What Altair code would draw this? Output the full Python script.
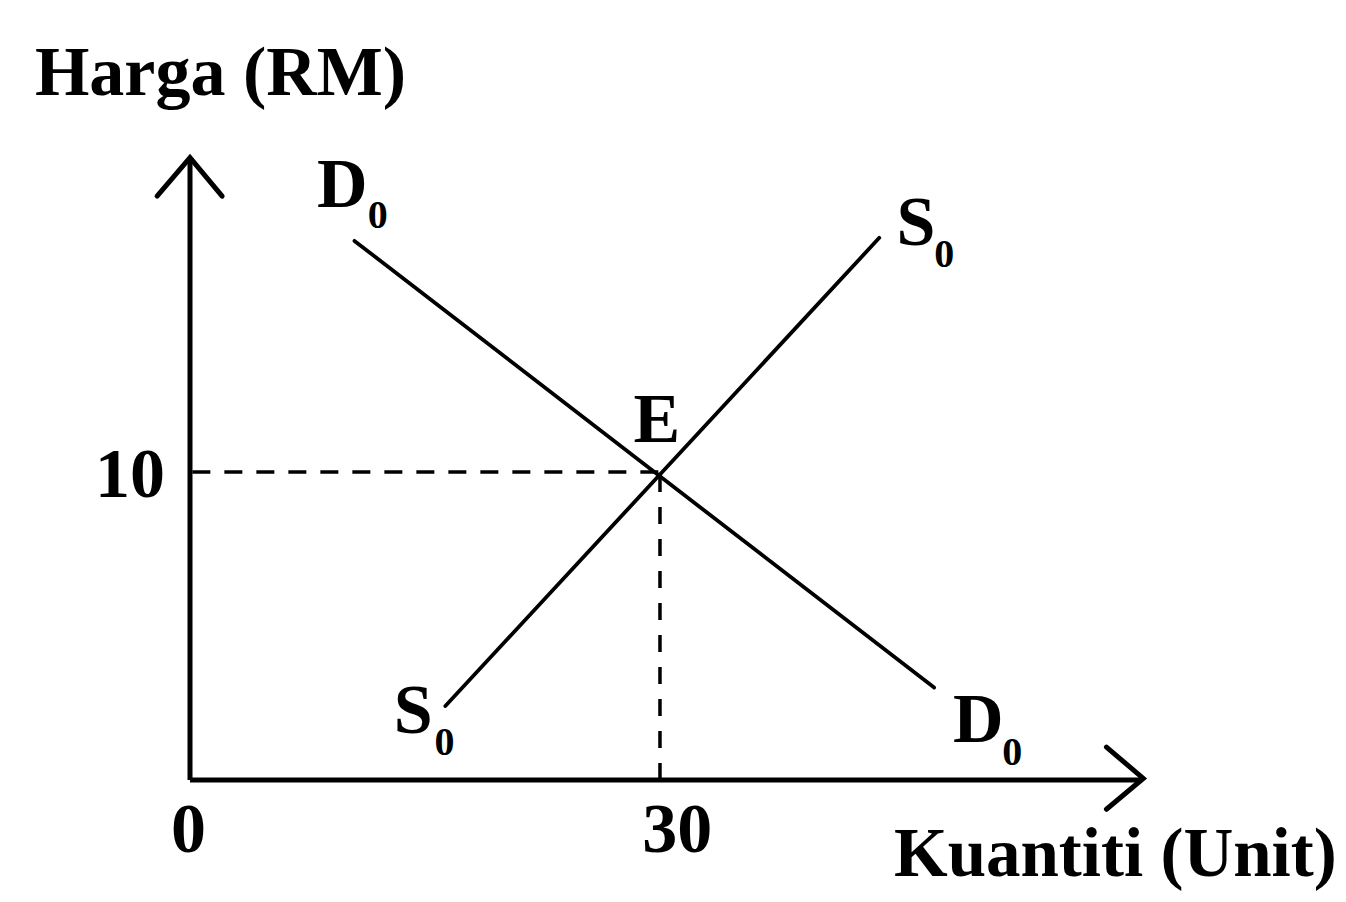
import altair as alt
import pandas as pd

# ---- chart values ----
eq_quantity = [30]          # Q at equilibrium E
eq_price = [10]             # P at equilibrium E
demand_q = [10.5, 47.5]     # D0 line end points (quantity)
demand_p = [17.5, 3.0]      # D0 line end points (price)
supply_q = [16.3, 44.0]     # S0 line end points (quantity)
supply_p = [2.4, 17.6]      # S0 line end points (price)
x_tick_labels = ["0", "30"]
y_tick_labels = ["10"]
x_title = "Kuantiti (Unit)"
y_title = "Harga (RM)"

# ---- layout (scale domain & label placement, in data units) ----
X_DOMAIN = [0, 61.28]
Y_DOMAIN = [0, 20.45]
XS = alt.Scale(domain=X_DOMAIN, nice=False, zero=False)
YS = alt.Scale(domain=Y_DOMAIN, nice=False, zero=False)
FONT = "Liberation Serif"
BIG = 70
SUB = 40


def polyline(qs, ps, width, dash=None, cap="round"):
    df = pd.DataFrame({"q": qs, "p": ps, "i": list(range(len(qs)))})
    kw = dict(color="black", strokeWidth=width, strokeCap=cap, strokeJoin="miter")
    if dash:
        kw["strokeDash"] = dash
    return alt.Chart(df).mark_line(**kw).encode(
        x=alt.X("q:Q", scale=XS, axis=None),
        y=alt.Y("p:Q", scale=YS, axis=None),
        order="i:Q",
    )


def label(text, q, p, size, align="left"):
    df = pd.DataFrame({"t": [text], "q": [q], "p": [p]})
    return alt.Chart(df).mark_text(
        font=FONT, fontWeight="bold", fontSize=size, align=align,
        baseline="alphabetic", color="black",
    ).encode(
        x=alt.X("q:Q", scale=XS, axis=None),
        y=alt.Y("p:Q", scale=YS, axis=None),
        text="t:N",
    )


layers = [
    # axes with open arrow heads
    polyline([0, 0], [0, 20.1], 5, cap="butt"),
    polyline([-2.1, 0, 2.05], [18.95, 20.2, 18.95], 5),
    polyline([0, 60.7], [0, 0], 5, cap="butt"),
    polyline([58.5, 60.85, 58.5], [1.07, 0.05, -0.95], 5),
    # guide lines to the equilibrium
    polyline([0.15, eq_quantity[0]], [eq_price[0], eq_price[0]], 3.5, dash=[18, 14], cap="butt"),
    polyline([eq_quantity[0], eq_quantity[0]], [0, eq_price[0]], 3.5, dash=[17, 15], cap="butt"),
    # demand and supply
    polyline(demand_q, demand_p, 3.8),
    polyline(supply_q, supply_p, 3.8),
    # texts
    label(y_title, -9.9, 22.24, BIG),
    label(x_title, 73.2, -3.12, 69, align="right"),
    label(x_tick_labels[0], -0.1, -2.34, BIG, align="center"),
    label(x_tick_labels[1], 31.1, -2.34, BIG, align="center"),
    label(y_tick_labels[0], -1.6, 9.19, BIG, align="right"),
    label("E", 29.8, 10.97, BIG, align="center"),
    label("D", 8.1, 18.6, BIG),
    label("0", 11.35, 17.92, SUB),
    label("S", 45.1, 17.37, BIG),
    label("0", 47.5, 16.66, SUB),
    label("S", 13.0, 1.53, BIG),
    label("0", 15.6, 0.81, SUB),
    label("D", 48.7, 1.23, BIG),
    label("0", 51.85, 0.49, SUB),
]

chart = alt.layer(*layers).properties(
    width=960,
    height=630,
    autosize=alt.AutoSizeParams(type="none"),
    padding={"left": 182, "top": 142, "right": 186, "bottom": 112},
    background="white",
).configure_view(stroke=None)

chart.save("out.html", embed_options={"renderer": "svg", "actions": False})
